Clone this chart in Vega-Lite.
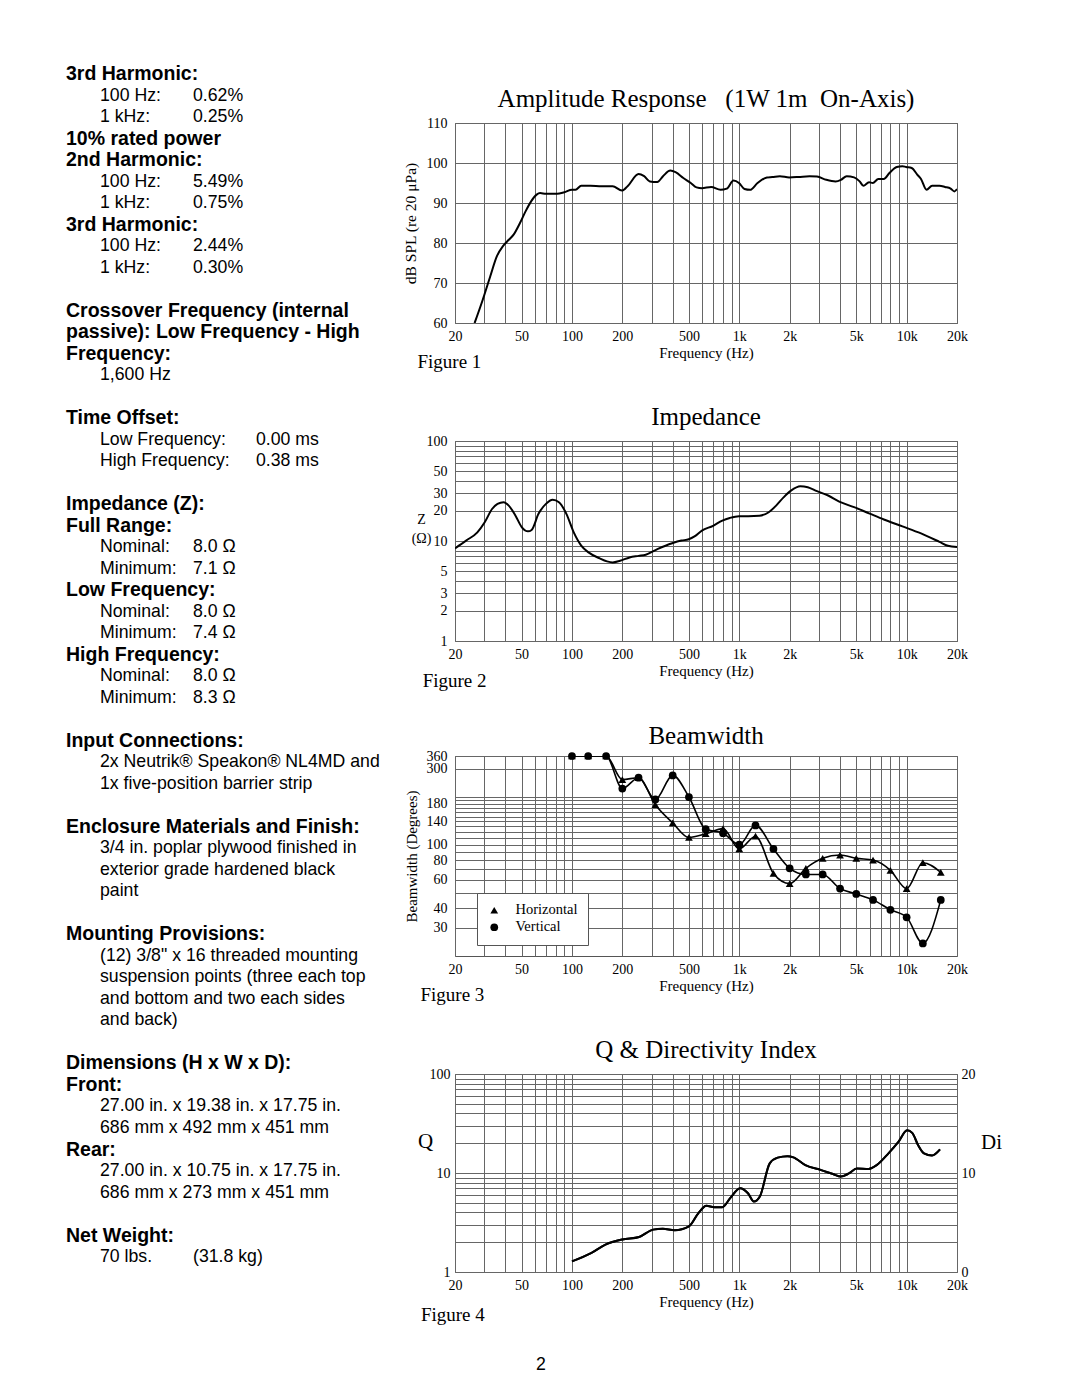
{
  "$schema": "https://vega.github.io/schema/vega-lite/v6.json",
  "background": "white",
  "padding": {"left": 66, "top": 64, "right": 0, "bottom": 0},
  "bounds": "flush",
  "spacing": 59,
  "resolve": {"scale": {"shape": "independent"}, "legend": {"shape": "independent"}},
  "config": {
    "view": {"stroke": "#555", "strokeWidth": 1},
    "title": {"font": "Liberation Serif", "fontWeight": "normal", "fontSize": 25, "color": "black", "anchor": "middle", "offset": 4},
    "axis": {"domain": false, "ticks": false, "grid": true, "gridColor": "#666", "gridWidth": 1, "gridOpacity": 1,
      "labelFont": "Liberation Serif", "labelFontSize": 14, "labelColor": "black", "labelOverlap": false, "labelFlush": false, "labelBound": false,
      "titleFont": "Liberation Serif", "titleFontSize": 15, "titleFontWeight": "normal", "titleColor": "black"},
    "axisX": {"labelPadding": 6, "titlePadding": 2},
    "axisY": {"labelPadding": 8}
  },
  "hconcat": [
    {
      "width": 330, "height": 1200,
      "view": {"stroke": null},
      "data": {"values": [
        {"line": 0, "col": 0, "kind": "head", "text": "3rd Harmonic:"},
        {"line": 1, "col": 1, "kind": "item", "text": "100 Hz:"},
        {"line": 1, "col": 2, "kind": "item", "text": "0.62%"},
        {"line": 2, "col": 1, "kind": "item", "text": "1 kHz:"},
        {"line": 2, "col": 2, "kind": "item", "text": "0.25%"},
        {"line": 3, "col": 0, "kind": "head", "text": "10% rated power"},
        {"line": 4, "col": 0, "kind": "head", "text": "2nd Harmonic:"},
        {"line": 5, "col": 1, "kind": "item", "text": "100 Hz:"},
        {"line": 5, "col": 2, "kind": "item", "text": "5.49%"},
        {"line": 6, "col": 1, "kind": "item", "text": "1 kHz:"},
        {"line": 6, "col": 2, "kind": "item", "text": "0.75%"},
        {"line": 7, "col": 0, "kind": "head", "text": "3rd Harmonic:"},
        {"line": 8, "col": 1, "kind": "item", "text": "100 Hz:"},
        {"line": 8, "col": 2, "kind": "item", "text": "2.44%"},
        {"line": 9, "col": 1, "kind": "item", "text": "1 kHz:"},
        {"line": 9, "col": 2, "kind": "item", "text": "0.30%"},
        {"line": 11, "col": 0, "kind": "head", "text": "Crossover Frequency (internal"},
        {"line": 12, "col": 0, "kind": "head", "text": "passive): Low Frequency - High"},
        {"line": 13, "col": 0, "kind": "head", "text": "Frequency:"},
        {"line": 14, "col": 1, "kind": "item", "text": "1,600 Hz"},
        {"line": 16, "col": 0, "kind": "head", "text": "Time Offset:"},
        {"line": 17, "col": 1, "kind": "item", "text": "Low Frequency:"},
        {"line": 17, "col": 3, "kind": "item", "text": "0.00 ms"},
        {"line": 18, "col": 1, "kind": "item", "text": "High Frequency:"},
        {"line": 18, "col": 3, "kind": "item", "text": "0.38 ms"},
        {"line": 20, "col": 0, "kind": "head", "text": "Impedance (Z):"},
        {"line": 21, "col": 0, "kind": "head", "text": "Full Range:"},
        {"line": 22, "col": 1, "kind": "item", "text": "Nominal:"},
        {"line": 22, "col": 2, "kind": "item", "text": "8.0 Ω"},
        {"line": 23, "col": 1, "kind": "item", "text": "Minimum:"},
        {"line": 23, "col": 2, "kind": "item", "text": "7.1 Ω"},
        {"line": 24, "col": 0, "kind": "head", "text": "Low Frequency:"},
        {"line": 25, "col": 1, "kind": "item", "text": "Nominal:"},
        {"line": 25, "col": 2, "kind": "item", "text": "8.0 Ω"},
        {"line": 26, "col": 1, "kind": "item", "text": "Minimum:"},
        {"line": 26, "col": 2, "kind": "item", "text": "7.4 Ω"},
        {"line": 27, "col": 0, "kind": "head", "text": "High Frequency:"},
        {"line": 28, "col": 1, "kind": "item", "text": "Nominal:"},
        {"line": 28, "col": 2, "kind": "item", "text": "8.0 Ω"},
        {"line": 29, "col": 1, "kind": "item", "text": "Minimum:"},
        {"line": 29, "col": 2, "kind": "item", "text": "8.3 Ω"},
        {"line": 31, "col": 0, "kind": "head", "text": "Input Connections:"},
        {"line": 32, "col": 1, "kind": "item", "text": "2x Neutrik® Speakon® NL4MD and"},
        {"line": 33, "col": 1, "kind": "item", "text": "1x five-position barrier strip"},
        {"line": 35, "col": 0, "kind": "head", "text": "Enclosure Materials and Finish:"},
        {"line": 36, "col": 1, "kind": "item", "text": "3/4 in. poplar plywood finished in"},
        {"line": 37, "col": 1, "kind": "item", "text": "exterior grade hardened black"},
        {"line": 38, "col": 1, "kind": "item", "text": "paint"},
        {"line": 40, "col": 0, "kind": "head", "text": "Mounting Provisions:"},
        {"line": 41, "col": 1, "kind": "item", "text": "(12) 3/8\" x 16 threaded mounting"},
        {"line": 42, "col": 1, "kind": "item", "text": "suspension points (three each top"},
        {"line": 43, "col": 1, "kind": "item", "text": "and bottom and two each sides"},
        {"line": 44, "col": 1, "kind": "item", "text": "and back)"},
        {"line": 46, "col": 0, "kind": "head", "text": "Dimensions (H x W x D):"},
        {"line": 47, "col": 0, "kind": "head", "text": "Front:"},
        {"line": 48, "col": 1, "kind": "item", "text": "27.00 in. x 19.38 in. x 17.75 in."},
        {"line": 49, "col": 1, "kind": "item", "text": "686 mm x 492 mm x 451 mm"},
        {"line": 50, "col": 0, "kind": "head", "text": "Rear:"},
        {"line": 51, "col": 1, "kind": "item", "text": "27.00 in. x 10.75 in. x 17.75 in."},
        {"line": 52, "col": 1, "kind": "item", "text": "686 mm x 273 mm x 451 mm"},
        {"line": 54, "col": 0, "kind": "head", "text": "Net Weight:"},
        {"line": 55, "col": 1, "kind": "item", "text": "70 lbs."},
        {"line": 55, "col": 2, "kind": "item", "text": "(31.8 kg)"},
        {"line": 60, "col": 4, "kind": "item", "text": "2"}
      ]},
      "encoding": {
        "x": {"field": "col", "type": "quantitative", "axis": null, "scale": {"domain": [0, 1, 2, 3, 4], "range": [0, 34, 127, 190, 470], "zero": false, "nice": false}},
        "y": {"field": "line", "type": "quantitative", "axis": null, "scale": {"domain": [0, 60], "range": [-49, 1241.6], "zero": false, "nice": false}},
        "text": {"field": "text"}
      },
      "layer": [
        {"transform": [{"filter": "datum.kind == 'head'"}],
         "mark": {"type": "text", "font": "Liberation Sans", "fontWeight": "bold", "fontSize": 19.5, "align": "left", "baseline": "middle", "color": "black"}},
        {"transform": [{"filter": "datum.kind == 'item'"}],
         "mark": {"type": "text", "font": "Liberation Sans", "fontSize": 17.7, "align": "left", "baseline": "middle", "color": "black"}}
      ]
    },
    {
      "spacing": 32,
      "resolve": {"scale": {"shape": "independent"}, "legend": {"shape": "independent"}},
      "vconcat": [
        {
          "title": {"text": "Figure 1", "orient": "bottom", "anchor": "start", "fontSize": 19, "offset": -8, "dx": 15},
          "vconcat": [{
            "width": 502, "height": 200,
            "title": {"text": "Amplitude Response\u00a0\u00a0\u00a0(1W 1m\u00a0\u00a0On-Axis)"},
            "data": {"values": [
              {"f": 26.2, "db": 60}, {"f": 29.3, "db": 65.8}, {"f": 32.5, "db": 71.7}, {"f": 35.6, "db": 76.7}, {"f": 38.8, "db": 79.3},
              {"f": 41.9, "db": 80.8}, {"f": 44.8, "db": 82.1}, {"f": 48.9, "db": 85}, {"f": 52.8, "db": 87.9}, {"f": 57, "db": 90.4},
              {"f": 61.5, "db": 92.1}, {"f": 64.5, "db": 92.5}, {"f": 69.9, "db": 92.3}, {"f": 81.5, "db": 92.3}, {"f": 90, "db": 92.7},
              {"f": 100, "db": 93.3}, {"f": 105, "db": 93.3}, {"f": 113.6, "db": 94.3}, {"f": 129, "db": 94.3}, {"f": 150, "db": 94.2},
              {"f": 175, "db": 94.2}, {"f": 199, "db": 93.1}, {"f": 215, "db": 94.2}, {"f": 250, "db": 97.25}, {"f": 270, "db": 96.7},
              {"f": 292, "db": 95.4}, {"f": 324, "db": 95.25}, {"f": 350, "db": 96.7}, {"f": 387, "db": 98.1}, {"f": 416, "db": 97.7},
              {"f": 463, "db": 96.25}, {"f": 513, "db": 95}, {"f": 555, "db": 93.9}, {"f": 598, "db": 93.7}, {"f": 679, "db": 94},
              {"f": 772, "db": 93.3}, {"f": 842, "db": 93.6}, {"f": 923, "db": 95.6}, {"f": 996, "db": 95}, {"f": 1074, "db": 93.5},
              {"f": 1161, "db": 93.3}, {"f": 1285, "db": 95}, {"f": 1462, "db": 96.4}, {"f": 1576, "db": 96.5}, {"f": 1748, "db": 96.7},
              {"f": 1987, "db": 96.4}, {"f": 2255, "db": 96.5}, {"f": 2630, "db": 96.7}, {"f": 2912, "db": 96.6}, {"f": 3310, "db": 95.8},
              {"f": 3760, "db": 95.4}, {"f": 4050, "db": 95.8}, {"f": 4384, "db": 96.7}, {"f": 4853, "db": 96.4}, {"f": 5240, "db": 95.4},
              {"f": 5520, "db": 94.3}, {"f": 5960, "db": 95.2}, {"f": 6280, "db": 95}, {"f": 6770, "db": 96}, {"f": 7305, "db": 96},
              {"f": 7890, "db": 97.5}, {"f": 8730, "db": 99}, {"f": 9430, "db": 99.2}, {"f": 9930, "db": 99}, {"f": 10720, "db": 98.75},
              {"f": 11570, "db": 97.1}, {"f": 12190, "db": 96}, {"f": 13150, "db": 93.3}, {"f": 14200, "db": 94.3}, {"f": 15720, "db": 94.3},
              {"f": 16960, "db": 94}, {"f": 18330, "db": 93.6}, {"f": 19290, "db": 92.9}, {"f": 20000, "db": 93.5}
            ]},
            "mark": {"type": "line", "interpolate": "monotone", "color": "black", "strokeWidth": 2, "clip": true},
            "encoding": {
              "x": {"field": "f", "type": "quantitative", "scale": {"type": "log", "domain": [20, 20000], "nice": false},
                "axis": {"title": "Frequency (Hz)", "values": [20,30,40,50,60,70,80,90,100,200,300,400,500,600,700,800,900,1000,2000,3000,4000,5000,6000,7000,8000,9000,10000,20000],
                  "labelExpr": "indexof([20,50,100,200,500,1000,2000,5000,10000,20000], datum.value) >= 0 ? (datum.value >= 1000 ? (datum.value/1000) + 'k' : '' + datum.value) : ''"}},
              "y": {"field": "db", "type": "quantitative", "scale": {"domain": [60, 110], "nice": false, "zero": false},
                "axis": {"title": "dB SPL (re 20 μPa)", "titleFontSize": 15.5, "values": [60,70,80,90,100,110], "titlePadding": 8}}
            }
          }]
        },
        {
          "title": {"text": "Figure 2", "orient": "bottom", "anchor": "start", "fontSize": 19, "offset": -7, "dx": 12},
          "vconcat": [{
            "width": 502, "height": 200,
            "title": {"text": "Impedance"},
            "data": {"values": [
              {"f": 20, "z": 8.44}, {"f": 23.3, "z": 10.1}, {"f": 27.2, "z": 12.2}, {"f": 30.1, "z": 15.4}, {"f": 33.3, "z": 20.9},
              {"f": 35.9, "z": 23.5}, {"f": 39, "z": 24.4}, {"f": 41.9, "z": 22.6}, {"f": 46, "z": 17.9}, {"f": 50.2, "z": 13.7},
              {"f": 54.6, "z": 12.5}, {"f": 57.4, "z": 12.9}, {"f": 63.1, "z": 18.7}, {"f": 69.9, "z": 23.5}, {"f": 76.7, "z": 25.8},
              {"f": 83.6, "z": 24.4}, {"f": 92.6, "z": 18.7}, {"f": 102.5, "z": 12.2}, {"f": 113.6, "z": 9}, {"f": 125.6, "z": 7.7},
              {"f": 146.6, "z": 6.7}, {"f": 162, "z": 6.25}, {"f": 175, "z": 6.1}, {"f": 194, "z": 6.35}, {"f": 221, "z": 6.85},
              {"f": 250, "z": 7.1}, {"f": 276, "z": 7.3}, {"f": 324, "z": 8.3}, {"f": 397, "z": 9.5}, {"f": 451, "z": 10.1},
              {"f": 499, "z": 10.4}, {"f": 540, "z": 11.1}, {"f": 598, "z": 12.7}, {"f": 697, "z": 14.2}, {"f": 792, "z": 16},
              {"f": 877, "z": 17}, {"f": 996, "z": 17.7}, {"f": 1132, "z": 17.7}, {"f": 1320, "z": 17.9}, {"f": 1500, "z": 19.4},
              {"f": 1660, "z": 22.6}, {"f": 1839, "z": 27.3}, {"f": 2037, "z": 31.9}, {"f": 2315, "z": 35.3}, {"f": 2565, "z": 34.5},
              {"f": 2912, "z": 31.5}, {"f": 3396, "z": 28.5}, {"f": 3956, "z": 24.8}, {"f": 4853, "z": 21.8}, {"f": 5960, "z": 18.9},
              {"f": 7310, "z": 16.4}, {"f": 9440, "z": 14}, {"f": 12190, "z": 11.9}, {"f": 15720, "z": 9.8}, {"f": 17640, "z": 8.95},
              {"f": 20000, "z": 8.7}
            ]},
            "mark": {"type": "line", "interpolate": "monotone", "color": "black", "strokeWidth": 2, "clip": true},
            "encoding": {
              "x": {"field": "f", "type": "quantitative", "scale": {"type": "log", "domain": [20, 20000], "nice": false},
                "axis": {"title": "Frequency (Hz)", "values": [20,30,40,50,60,70,80,90,100,200,300,400,500,600,700,800,900,1000,2000,3000,4000,5000,6000,7000,8000,9000,10000,20000],
                  "labelExpr": "indexof([20,50,100,200,500,1000,2000,5000,10000,20000], datum.value) >= 0 ? (datum.value >= 1000 ? (datum.value/1000) + 'k' : '' + datum.value) : ''"}},
              "y": {"field": "z", "type": "quantitative", "scale": {"type": "log", "domain": [1, 100], "nice": false},
                "axis": {"title": ["Z", "(Ω)"], "titleAngle": 0, "titleFontSize": 14, "titleAlign": "center", "titleBaseline": "middle", "titleX": -34, "titleY": 78, "titleLineHeight": 19,
                  "values": [1,2,3,4,5,6,7,8,9,10,20,30,40,50,60,70,80,90,100],
                  "labelExpr": "indexof([1,2,3,5,10,20,30,50,100], datum.value) >= 0 ? '' + datum.value : ''"}}
            }
          }]
        },
        {
          "title": {"text": "Figure 3", "orient": "bottom", "anchor": "start", "fontSize": 19, "offset": -8, "dx": 17},
          "resolve": {"scale": {"shape": "independent"}, "legend": {"shape": "independent"}},
          "vconcat": [{
            "width": 502, "height": 200,
            "title": {"text": "Beamwidth", "offset": 0},
            "data": {"values": [
              {"f": 100, "bw": 360, "orient": "Horizontal"}, {"f": 125, "bw": 360, "orient": "Horizontal"}, {"f": 160, "bw": 360, "orient": "Horizontal"},
              {"f": 200, "bw": 256, "orient": "Horizontal"}, {"f": 250, "bw": 263, "orient": "Horizontal"}, {"f": 315, "bw": 178, "orient": "Horizontal"},
              {"f": 400, "bw": 137, "orient": "Horizontal"}, {"f": 500, "bw": 111, "orient": "Horizontal"}, {"f": 630, "bw": 117, "orient": "Horizontal"},
              {"f": 800, "bw": 126, "orient": "Horizontal"}, {"f": 1000, "bw": 94, "orient": "Horizontal"}, {"f": 1250, "bw": 113, "orient": "Horizontal"},
              {"f": 1600, "bw": 66, "orient": "Horizontal"}, {"f": 2000, "bw": 57, "orient": "Horizontal"}, {"f": 2500, "bw": 71, "orient": "Horizontal"},
              {"f": 3150, "bw": 82, "orient": "Horizontal"}, {"f": 4000, "bw": 86, "orient": "Horizontal"}, {"f": 5000, "bw": 82, "orient": "Horizontal"},
              {"f": 6300, "bw": 80, "orient": "Horizontal"}, {"f": 8000, "bw": 69, "orient": "Horizontal"}, {"f": 10000, "bw": 53, "orient": "Horizontal"},
              {"f": 12500, "bw": 77, "orient": "Horizontal"}, {"f": 16000, "bw": 67, "orient": "Horizontal"},
              {"f": 100, "bw": 360, "orient": "Vertical"}, {"f": 125, "bw": 360, "orient": "Vertical"}, {"f": 160, "bw": 360, "orient": "Vertical"},
              {"f": 200, "bw": 225, "orient": "Vertical"}, {"f": 250, "bw": 263, "orient": "Vertical"}, {"f": 315, "bw": 192, "orient": "Vertical"},
              {"f": 400, "bw": 272, "orient": "Vertical"}, {"f": 500, "bw": 199, "orient": "Vertical"}, {"f": 630, "bw": 125, "orient": "Vertical"},
              {"f": 800, "bw": 118, "orient": "Vertical"}, {"f": 1000, "bw": 100, "orient": "Vertical"}, {"f": 1250, "bw": 132, "orient": "Vertical"},
              {"f": 1600, "bw": 94, "orient": "Vertical"}, {"f": 2000, "bw": 71, "orient": "Vertical"}, {"f": 2500, "bw": 65, "orient": "Vertical"},
              {"f": 3150, "bw": 65, "orient": "Vertical"}, {"f": 4000, "bw": 53, "orient": "Vertical"}, {"f": 5000, "bw": 49, "orient": "Vertical"},
              {"f": 6300, "bw": 45, "orient": "Vertical"}, {"f": 8000, "bw": 39, "orient": "Vertical"}, {"f": 10000, "bw": 35, "orient": "Vertical"},
              {"f": 12500, "bw": 24, "orient": "Vertical"}, {"f": 16000, "bw": 45, "orient": "Vertical"}
            ]},
            "encoding": {
              "x": {"field": "f", "type": "quantitative", "scale": {"type": "log", "domain": [20, 20000], "nice": false},
                "axis": {"title": "Frequency (Hz)", "values": [20,30,40,50,60,70,80,90,100,200,300,400,500,600,700,800,900,1000,2000,3000,4000,5000,6000,7000,8000,9000,10000,20000],
                  "labelExpr": "indexof([20,50,100,200,500,1000,2000,5000,10000,20000], datum.value) >= 0 ? (datum.value >= 1000 ? (datum.value/1000) + 'k' : '' + datum.value) : ''"}},
              "y": {"field": "bw", "type": "quantitative", "scale": {"type": "log", "domain": [20, 360], "nice": false},
                "axis": {"title": "Beamwidth (Degrees)", "titleFontSize": 15, "titlePadding": 7,
                  "values": [30,40,50,60,70,80,90,100,110,120,130,140,150,160,170,180,190,200,300,360],
                  "labelExpr": "indexof([30,40,60,80,100,140,180,300,360], datum.value) >= 0 ? '' + datum.value : ''"}}
            },
            "layer": [
              {"mark": {"type": "line", "interpolate": "monotone", "color": "black", "strokeWidth": 1.6, "clip": true},
               "encoding": {"detail": {"field": "orient"}}},
              {"mark": {"type": "point", "filled": true, "color": "black", "size": 60, "opacity": 1},
               "encoding": {"shape": {"field": "orient", "type": "nominal",
                 "scale": {"domain": ["Horizontal", "Vertical"], "range": ["triangle-up", "circle"]},
                 "legend": {"orient": "none", "legendX": 22, "legendY": 137, "title": null, "strokeColor": "#555", "fillColor": "white",
                   "padding": 10, "labelFont": "Liberation Serif", "labelFontSize": 14.5, "labelColor": "black", "symbolSize": 60,
                   "symbolFillColor": "black", "symbolStrokeColor": "black", "rowPadding": 2, "labelOffset": 14}}}}
            ]
          }]
        },
        {
          "title": {"text": "Figure 4", "orient": "bottom", "anchor": "start", "fontSize": 19, "offset": -4, "dx": 4},
          "vconcat": [{
            "width": 502, "height": 198,
            "title": {"text": "Q & Directivity Index"},
            "data": {"values": [
              {"f": 100, "q": 1.28}, {"f": 130.9, "q": 1.56}, {"f": 158.5, "q": 1.89}, {"f": 200, "q": 2.13}, {"f": 252, "q": 2.26},
              {"f": 305, "q": 2.68}, {"f": 349, "q": 2.74}, {"f": 411, "q": 2.64}, {"f": 500, "q": 2.89}, {"f": 570, "q": 3.94},
              {"f": 636, "q": 4.67}, {"f": 709, "q": 4.52}, {"f": 791, "q": 4.52}, {"f": 882, "q": 5.57}, {"f": 1010, "q": 7.02},
              {"f": 1127, "q": 6.25}, {"f": 1222, "q": 5.15}, {"f": 1327, "q": 5.79}, {"f": 1520, "q": 12.5}, {"f": 1695, "q": 14.3},
              {"f": 1942, "q": 14.8}, {"f": 2105, "q": 14.4}, {"f": 2482, "q": 12}, {"f": 3085, "q": 10.7}, {"f": 3630, "q": 9.77},
              {"f": 4045, "q": 9.2}, {"f": 4520, "q": 9.9}, {"f": 5040, "q": 11.1}, {"f": 5930, "q": 11}, {"f": 6620, "q": 12},
              {"f": 7790, "q": 15.8}, {"f": 8930, "q": 20.6}, {"f": 10070, "q": 27}, {"f": 10800, "q": 25.4}, {"f": 11720, "q": 19.1},
              {"f": 12700, "q": 15.8}, {"f": 14190, "q": 15}, {"f": 15830, "q": 17.3}
            ]},
            "encoding": {
              "x": {"field": "f", "type": "quantitative", "scale": {"type": "log", "domain": [20, 20000], "nice": false},
                "axis": {"title": "Frequency (Hz)", "values": [20,30,40,50,60,70,80,90,100,200,300,400,500,600,700,800,900,1000,2000,3000,4000,5000,6000,7000,8000,9000,10000,20000],
                  "labelExpr": "indexof([20,50,100,200,500,1000,2000,5000,10000,20000], datum.value) >= 0 ? (datum.value >= 1000 ? (datum.value/1000) + 'k' : '' + datum.value) : ''"}}
            },
            "layer": [
              {"mark": {"type": "line", "interpolate": "monotone", "color": "black", "strokeWidth": 2, "clip": true},
               "encoding": {"y": {"field": "q", "type": "quantitative", "scale": {"type": "log", "domain": [1, 100], "nice": false},
                 "axis": {"orient": "left", "title": "Q", "titleAngle": 0, "titleFontSize": 21, "titleAlign": "center", "titleBaseline": "middle", "titleX": -30, "titleY": 67,
                   "labelPadding": 5, "values": [1,2,3,4,5,6,7,8,9,10,20,30,40,50,60,70,80,90,100],
                   "labelExpr": "indexof([1,10,100], datum.value) >= 0 ? '' + datum.value : ''"}}}},
              {"mark": {"type": "line", "interpolate": "monotone", "color": "black", "strokeWidth": 2, "clip": true},
               "encoding": {"y": {"field": "q", "type": "quantitative", "scale": {"type": "log", "domain": [1, 100], "nice": false},
                 "axis": {"orient": "right", "title": "Di", "titleAngle": 0, "titleFontSize": 21, "titleAlign": "center", "titleBaseline": "middle", "titleX": 34, "titleY": 68,
                   "grid": false, "labelPadding": 4, "values": [1, 10, 100],
                   "labelExpr": "datum.value == 1 ? '0' : (datum.value == 10 ? '10' : '20')"}}}}
            ],
            "resolve": {"axis": {"y": "independent"}}
          }]
        }
      ]
    }
  ]
}
